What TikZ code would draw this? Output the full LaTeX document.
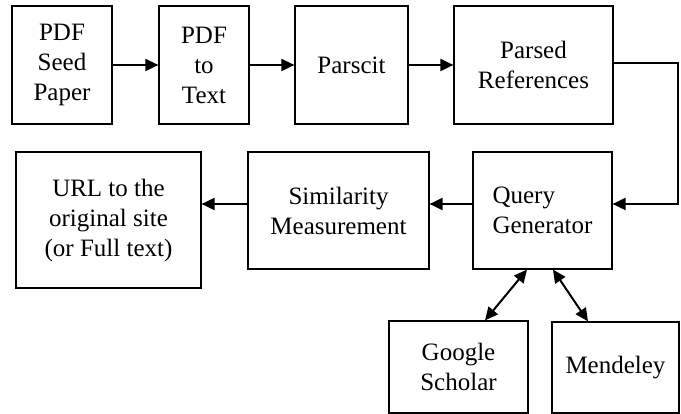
\documentclass[tikz,border=0pt]{standalone}
\usepackage{fontspec}
\setmainfont{Liberation Serif}
\usetikzlibrary{arrows.meta}

\tikzset{
    block/.style={rectangle, draw, line width=1.2pt, inner sep=0pt, align=center,
        font=\fontsize{25}{30}\selectfont},
    flow/.style={line width=2pt, -{Triangle[length=13pt, width=12pt]}},
    both/.style={line width=2pt, {Triangle[length=13pt, width=12pt]}-{Triangle[length=13pt, width=12pt]}}
}

\begin{document}
\begin{tikzpicture}[x=1pt, y=-1pt]
        \useasboundingbox (0,0) rectangle (681,414);

        \node[block, minimum width=100pt, minimum height=118pt] (seed) at (62, 65) {PDF\\Seed\\Paper};
        \node[block, minimum width=90pt, minimum height=118pt] (pdftext) at (204, 65) {PDF\\to\\Text};
        \node[block, minimum width=113pt, minimum height=118pt] (parscit) at (351.5, 65) {Parscit};
        \node[block, minimum width=159pt, minimum height=118pt] (parsed) at (533.5, 65) {Parsed\\References};

        \node[block, minimum width=185pt, minimum height=136pt] (url) at (108.5, 220) {URL to the\\original site\\(or Full text)};
        \node[block, minimum width=181pt, minimum height=117pt] (similarity) at (338.5, 210.5) {Similarity\\Measurement};
        \node[block, minimum width=139pt, minimum height=117pt, align=left] (query) at (542.5, 210.5) {Query\\Generator};

        \node[block, minimum width=139pt, minimum height=92pt] (scholar) at (458.5, 367) {Google\\Scholar};
        \node[block, minimum width=127pt, minimum height=91pt] (mendeley) at (615.5, 367.5) {Mendeley};

        \draw[flow] (seed.east) -- (pdftext.west);
        \draw[flow] (pdftext.east) -- (parscit.west);
        \draw[flow] (parscit.east) -- (parsed.west);
        \draw[flow] ([yshift=2pt]parsed.east) -- ++(64,0) |- ([yshift=6.5pt]query.east);
        \draw[flow] ([yshift=6.5pt]query.west) -- ([yshift=6.5pt]similarity.east);
        \draw[flow] ([yshift=6.5pt]similarity.west) -- ([yshift=16pt]url.east);

        \draw[both] ([xshift=-15.5pt]query.south) -- ([xshift=26.5pt]scholar.north);
        \draw[both] ([xshift=10.5pt]query.south) -- ([xshift=-27.5pt]mendeley.north);
    \end{tikzpicture}
\end{document}
